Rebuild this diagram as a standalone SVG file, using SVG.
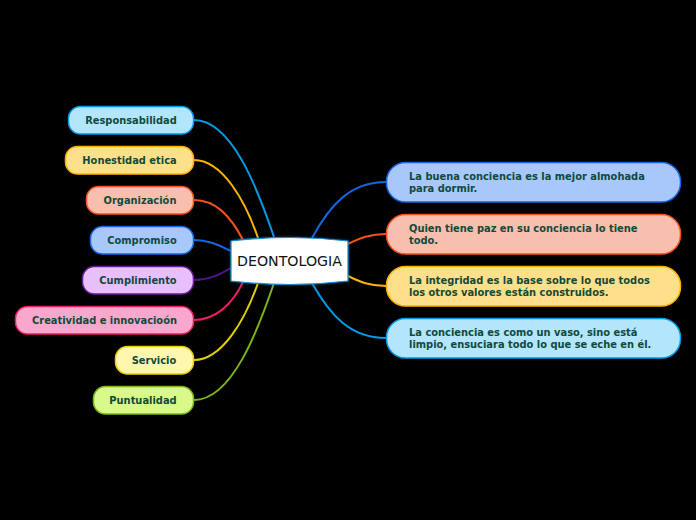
<svg xmlns="http://www.w3.org/2000/svg" width="696" height="520" viewBox="0 0 696 520">
<defs>
<style>
.n rect{stroke-width:1.5}
.t{font-family:"DejaVu Sans",Verdana,sans-serif;font-weight:bold;font-size:9.9px;fill:#104a3a}
.tc{text-anchor:middle}
.c path{fill:none;stroke-width:2}
</style>
<filter id="glow" x="-20%" y="-30%" width="140%" height="160%">
<feGaussianBlur stdDeviation="1.5"/>
</filter>
</defs>
<rect width="696" height="520" fill="#000"/>
<g class="c">
<path d="M194,120 C232,120 258,190 274,237" stroke="#039be5"/>
<path d="M194,160 C222,160 245,200 258,238" stroke="#ffb300"/>
<path d="M194,200 C215,200 230,215 243,240" stroke="#f4511e"/>
<path d="M194,240 C210,240 220,246 231,251" stroke="#1565e0"/>
<path d="M194,280 C210,280 220,274 231,268" stroke="#4a148c"/>
<path d="M194,320 C215,320 232,305 243,282" stroke="#e91e63"/>
<path d="M194,360 C222,360 245,320 258,283" stroke="#e6cf00"/>
<path d="M194,400 C232,400 258,330 274,283" stroke="#7cb518"/>
<path d="M312,238 C330,205 350,182 386,182" stroke="#1565e0"/>
<path d="M348,244 C360,238 370,234 386,234" stroke="#f4511e"/>
<path d="M348,276 C360,282 370,286 386,286" stroke="#ffb300"/>
<path d="M312,283 C330,315 350,338 386,338" stroke="#039be5"/>
</g>
<g id="center">
<path d="M231,241 Q290,234 348,241 L348,281 Q290,288 231,281 Z" fill="#0a7fc0" filter="url(#glow)"/>
<path d="M231,241 Q290,234 348,241 L348,281 Q290,288 231,281 Z" fill="#fff" stroke="#1a88c9" stroke-width="1.2"/>
<text x="289.5" y="266" text-anchor="middle" font-family="'DejaVu Sans',Verdana,sans-serif" font-size="14.2" fill="#111">DEONTOLOGIA</text>
</g>
<g id="n1" class="n"><rect x="68.5" y="106.5" width="125" height="27.5" rx="12" fill="#b3e5fc" stroke="#039be5"/><text class="t tc" x="131" y="124">Responsabilidad</text></g>
<g id="n2" class="n"><rect x="65.5" y="146.5" width="128" height="27.5" rx="12" fill="#ffe08a" stroke="#ffb300"/><text class="t tc" x="129.5" y="164">Honestidad etica</text></g>
<g id="n3" class="n"><rect x="86.5" y="186.5" width="107" height="27.5" rx="12" fill="#f8bfae" stroke="#f4511e"/><text class="t tc" x="140" y="204">Organización</text></g>
<g id="n4" class="n"><rect x="90.5" y="226.5" width="103" height="27.5" rx="12" fill="#a8c8fb" stroke="#1565e0"/><text class="t tc" x="142" y="244">Compromiso</text></g>
<g id="n5" class="n"><rect x="82.5" y="266.5" width="111" height="27.5" rx="12" fill="#e8bffb" stroke="#6a1b9a"/><text class="t tc" x="138" y="284">Cumplimiento</text></g>
<g id="n6" class="n"><rect x="15.5" y="306.5" width="178" height="27.5" rx="12" fill="#f8a8cc" stroke="#e91e63"/><text class="t tc" x="104.5" y="324">Creatividad e innovacioón</text></g>
<g id="n7" class="n"><rect x="115.5" y="346.5" width="78" height="27.5" rx="12" fill="#fff6b0" stroke="#e6cf00"/><text class="t tc" x="154" y="364">Servicio</text></g>
<g id="n8" class="n"><rect x="93.5" y="386.5" width="100" height="27.5" rx="12" fill="#d9fa8a" stroke="#7cb518"/><text class="t tc" x="143" y="404">Puntualidad</text></g>
<g id="r1" class="n"><rect x="386.5" y="162.5" width="294" height="39.5" rx="19" fill="#a8c8fb" stroke="#1565e0"/><text class="t" x="409" y="180">La buena conciencia es la mejor almohada</text><text class="t" x="409" y="192">para dormir.</text></g>
<g id="r2" class="n"><rect x="386.5" y="214.5" width="294" height="39.5" rx="19" fill="#f8bfae" stroke="#f4511e"/><text class="t" x="409" y="232">Quien tiene paz en su conciencia lo tiene</text><text class="t" x="409" y="244">todo.</text></g>
<g id="r3" class="n"><rect x="386.5" y="266.5" width="294" height="39.5" rx="19" fill="#ffe08a" stroke="#ffb300"/><text class="t" x="409" y="284">La integridad es la base sobre lo que todos</text><text class="t" x="409" y="296">los otros valores están construidos.</text></g>
<g id="r4" class="n"><rect x="386.5" y="318.5" width="294" height="39.5" rx="19" fill="#b3e5fc" stroke="#039be5"/><text class="t" x="409" y="336">La conciencia es como un vaso, sino está</text><text class="t" x="409" y="348">limpio, ensuciara todo lo que se eche en él.</text></g>
</svg>
